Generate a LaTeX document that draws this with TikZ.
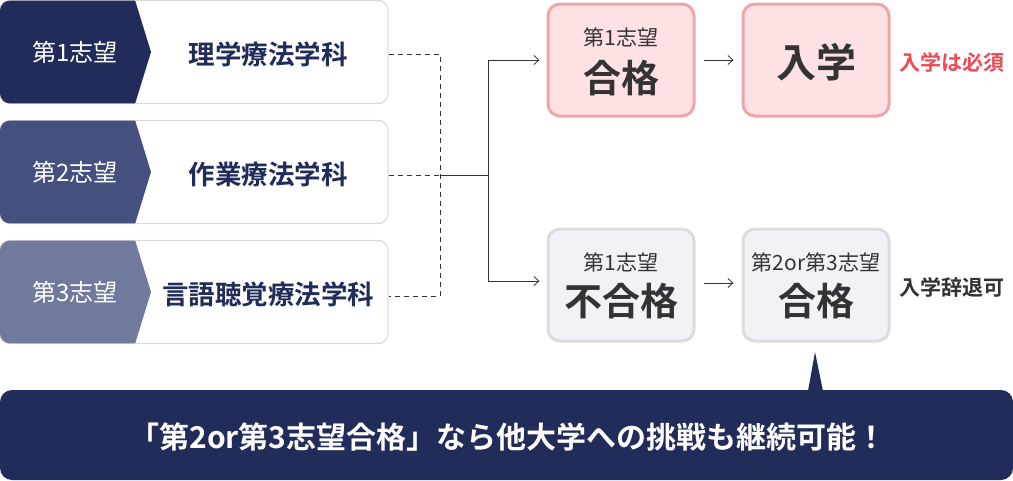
\documentclass[tikz,border=0pt]{standalone}
\usepackage{fontspec}
\setmainfont{Noto Sans CJK JP}
\newfontfamily\jpbold{Noto Sans CJK JP Bold}
\usetikzlibrary{arrows.meta}
\definecolor{navy}{HTML}{222C5A}
\definecolor{navymid}{HTML}{45507F}
\definecolor{navylight}{HTML}{707A9C}
\definecolor{pinkfill}{HTML}{FDE1E3}
\definecolor{pinkline}{HTML}{F0A5A8}
\definecolor{grayfill}{HTML}{F2F1F7}
\definecolor{grayline}{HTML}{DCDCDC}
\definecolor{redtext}{HTML}{F04A55}
\definecolor{ink}{HTML}{333333}
\tikzset{
  deptbox/.style={draw=grayline, line width=1.2pt, fill=white, rounded corners=10pt, minimum width=388pt, minimum height=103pt, inner sep=0pt},
  resbox/.style={line width=3pt, rounded corners=12pt, minimum width=146pt, minimum height=112pt, inner sep=0pt},
  passbox/.style={resbox, draw=pinkline, fill=pinkfill},
  failbox/.style={resbox, draw=grayline, fill=grayfill},
  small/.style={text=ink, font=\fontsize{21}{21}\selectfont},
  big/.style={text=ink, font=\jpbold\fontsize{38}{38}\selectfont},
  side/.style={font=\jpbold\fontsize{21}{21}\selectfont},
  link/.style={draw=ink, line width=0.8pt},
  tip/.style={-{Straight Barb[length=5pt, width=9pt]}},
}
\begin{document}
\begin{tikzpicture}[x=1pt, y=-1pt]
\useasboundingbox (0,0) rectangle (1013,480);
% choices
\foreach \name/\tabcol/\rank/\dept [count=\i from 0] in {
  physio/navy/1/理学療法学科,
  occup/navymid/2/作業療法学科,
  speech/navylight/3/言語聴覚療法学科}{
  \node[deptbox] (\name) at (194, 52+120*\i) {};
  \begin{scope}
    \clip[rounded corners=10pt] (0, 120*\i+0.6) rectangle (388, 120*\i+103.4);
    \fill[\tabcol] (0, 120*\i) -- (135, 120*\i) -- (151, 120*\i+52) -- (135, 120*\i+104) -- (0, 120*\i+104) -- cycle;
  \end{scope}
  \node[text=white, font=\fontsize{24}{24}\selectfont] (\name-tab) at (75, 52+120*\i) {第\rank 志望};
  \node[text=navy, font=\jpbold\fontsize{26.5}{26.5}\selectfont] (\name-label) at (268, 54+120*\i) {\dept};
  \coordinate (\name-end) at (440, 54+121*\i);
}
% results
\node[passbox] (firstpass) at (621, 60) {};
\node[small] (firstpass-top) at (621, 37) {第1志望};
\node[big] (firstpass-main) at (621, 78) {合格};
\node[passbox] (enter) at (816, 60) {};
\node[text=ink, font=\jpbold\fontsize{40}{40}\selectfont] (enter-main) at (816, 62) {入学};
\node[failbox] (firstfail) at (621, 285) {};
\node[small] (firstfail-top) at (621, 262) {第1志望};
\node[big] (firstfail-main) at (621, 301) {不合格};
\node[failbox] (otherpass) at (816, 285) {};
\node[small] (otherpass-top) at (816, 262) {第2or第3志望};
\node[big] (otherpass-main) at (816, 301) {合格};
\node[side, text=redtext] (must) at (952, 62) {入学は必須};
\node[side, text=ink] (decline) at (952, 287) {入学辞退可};
% connectors
\draw[link, dash pattern=on 5pt off 4pt] (physio.east |- physio-end) -- (physio-end) -- (speech-end) -- (speech.east |- speech-end);
\draw[link, dash pattern=on 5pt off 4pt] (occup.east |- occup-end) -- (occup-end);
\coordinate (fork) at (488, 175);
\draw[link] (occup-end) -- (fork);
\draw[link, tip] (fork) |- ([xshift=-7pt]firstpass.west);
\draw[link, tip] (fork) |- ([xshift=-7pt, yshift=4pt]firstfail.west);
\draw[link, tip] ([xshift=8pt]firstpass.east) -- ([xshift=-8pt]enter.west);
\draw[link, tip] ([xshift=8pt, yshift=2pt]firstfail.east) -- ([xshift=-8pt, yshift=2pt]otherpass.west);
% banner
\fill[navy, rounded corners=12pt] (0,390) rectangle (1013,480);
\fill[navy] (808,391) -- (815,352) -- (823,391) -- cycle;
\node[text=white, font=\jpbold\fontsize{30}{30}\selectfont] (note) at (508, 437) {「第2or第3志望合格」なら他大学への挑戦も継続可能！};
\end{tikzpicture}
\end{document}
